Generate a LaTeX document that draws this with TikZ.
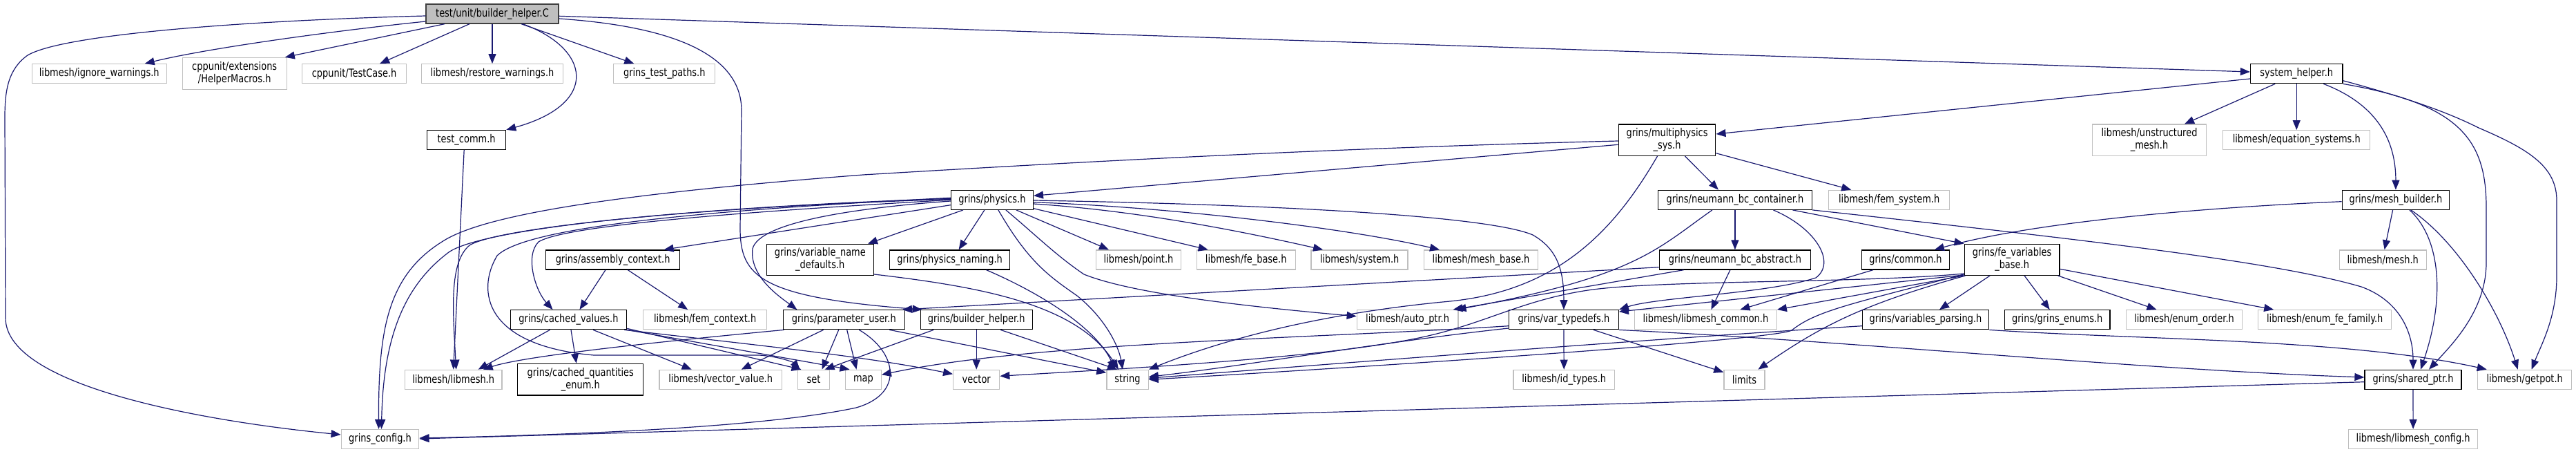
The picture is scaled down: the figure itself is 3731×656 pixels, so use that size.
\documentclass[tikz,border=0pt]{standalone}
\usepackage{fontspec}
\newfontfamily\gvfont{DejaVu Sans}[FakeStretch=0.81]
\usetikzlibrary{arrows.meta,calc}
\definecolor{edgec}{HTML}{191970}
\definecolor{grayb}{HTML}{BFBFBF}
\definecolor{rootb}{HTML}{404040}
\begin{document}
\begin{tikzpicture}[x=1pt,y=-1pt,
  every node/.style={font=\gvfont\fontsize{16}{18}\selectfont, inner sep=0pt, minimum height=28pt, align=center, line width=1.3pt},
  gn/.style={draw=grayb},
  bn/.style={draw=black},
  e/.style={draw=edgec, line width=1.2pt, -{Triangle[length=14pt,width=11pt]}}
]
\fill[white] (0,0) rectangle (3731,656);
\useasboundingbox (0,0) rectangle (3731,656);
% ---------- nodes ----------
\node[draw=rootb, fill=grayb, minimum width=192pt] (root) at (713,20) {test/unit/builder\_helper.C};
\node[gn, minimum width=195pt] (ignw) at (143.7,106.7) {libmesh/ignore\_warnings.h};
\node[gn, minimum width=151pt, minimum height=46pt] (helper) at (339.7,106.5) {cppunit/extensions\\/HelperMacros.h};
\node[gn, minimum width=151pt] (testcase) at (513.1,106.7) {cppunit/TestCase.h};
\node[gn, minimum width=205pt] (restw) at (713,106.7) {libmesh/restore\_warnings.h};
\node[gn, minimum width=147pt] (testpaths) at (962.3,106.7) {grins\_test\_paths.h};
\node[bn, minimum width=114pt] (testcomm) at (675.6,202.5) {test\_comm.h};
\node[bn, minimum width=133.4pt] (syshelp) at (3326.2,106.7) {system\_helper.h};
\node[bn, minimum width=140.6pt, minimum height=45.4pt] (multi) at (2414.5,202.7) {grins/multiphysics\\\_sys.h};
\node[gn, minimum width=165pt, minimum height=45.4pt] (unstr) at (3113,202.7) {libmesh/unstructured\\\_mesh.h};
\node[gn, minimum width=213pt] (eqsys) at (3326.2,202.7) {libmesh/equation\_systems.h};
\node[bn, minimum width=119pt] (physics) at (1436.9,289.3) {grins/physics.h};
\node[bn, minimum width=223.4pt] (container) at (2512.9,289.3) {grins/neumann\_bc\_container.h};
\node[gn, minimum width=175pt] (femsys) at (2736.2,289.3) {libmesh/fem\_system.h};
\node[bn, minimum width=155.5pt] (meshb) at (3469.9,289.3) {grins/mesh\_builder.h};
\node[bn, minimum width=194.4pt] (assembly) at (887.6,376) {grins/assembly\_context.h};
\node[bn, minimum width=155pt, minimum height=45pt] (varname) at (1187.8,375.8) {grins/variable\_name\\\_defaults.h};
\node[bn, minimum width=174pt] (physnaming) at (1375.6,376) {grins/physics\_naming.h};
\node[gn, minimum width=123pt] (point) at (1649,376) {libmesh/point.h};
\node[gn, minimum width=143pt] (febase) at (1804.7,376) {libmesh/fe\_base.h};
\node[gn, minimum width=140pt] (system) at (1969.1,376) {libmesh/system.h};
\node[gn, minimum width=165pt] (meshbase) at (2145,376) {libmesh/mesh\_base.h};
\node[bn, minimum width=219.4pt] (abstract) at (2512.9,376) {grins/neumann\_bc\_abstract.h};
\node[bn, minimum width=126.5pt] (common) at (2759.9,376) {grins/common.h};
\node[bn, minimum width=137.8pt, minimum height=45pt] (fevb) at (2914.1,375.8) {grins/fe\_variables\\\_base.h};
\node[gn, minimum width=126pt] (meshh) at (3451.2,376) {libmesh/mesh.h};
\node[bn, minimum width=168.2pt] (cached) at (823.5,462.7) {grins/cached\_values.h};
\node[gn, minimum width=179pt] (femctx) at (1021.2,462.7) {libmesh/fem\_context.h};
\node[bn, minimum width=176pt] (paramuser) at (1222.3,462.7) {grins/parameter\_user.h};
\node[bn, minimum width=162pt] (builderh) at (1414.2,462.7) {grins/builder\_helper.h};
\node[gn, minimum width=146.6pt] (autoptr) at (2038.6,462.7) {libmesh/auto\_ptr.h};
\node[bn, minimum width=158.7pt] (vartd) at (2264.9,462.7) {grins/var\_typedefs.h};
\node[gn, minimum width=205.7pt] (lmcommon) at (2470.4,462.7) {libmesh/libmesh\_common.h};
\node[bn, minimum width=183.2pt] (varparse) at (2789,462.7) {grins/variables\_parsing.h};
\node[bn, minimum width=152.3pt] (enums) at (2979.7,462.7) {grins/grins\_enums.h};
\node[gn, minimum width=168pt] (enumorder) at (3163.5,462.7) {libmesh/enum\_order.h};
\node[gn, minimum width=192.8pt] (enumfe) at (3367.2,462.7) {libmesh/enum\_fe\_family.h};
\node[gn, minimum width=140.3pt] (libmesh) at (656.7,549.3) {libmesh/libmesh.h};
\node[bn, minimum width=182pt, minimum height=45.7pt] (cqenum) at (840.8,549.2) {grins/cached\_quantities\\\_enum.h};
\node[gn, minimum width=177.2pt] (vecval) at (1043.7,549.3) {libmesh/vector\_value.h};
\node[gn, minimum width=45.8pt] (set) at (1178.5,549.3) {set};
\node[gn, minimum width=51.5pt] (map) at (1250.5,549.3) {map};
\node[gn, minimum width=67pt] (vector) at (1414.2,549.3) {vector};
\node[gn, minimum width=60.3pt] (string) at (1633,549.3) {string};
\node[gn, minimum width=146.6pt] (idtypes) at (2265.2,549.3) {libmesh/id\_types.h};
\node[gn, minimum width=59pt] (limits) at (2526.4,549.3) {limits};
\node[bn, minimum width=140pt] (sharedptr) at (3495,549.3) {grins/shared\_ptr.h};
\node[gn, minimum width=136.2pt] (getpot) at (3656.7,549.3) {libmesh/getpot.h};
\node[gn, minimum width=112.5pt] (config) at (550.5,635.5) {grins\_config.h};
\node[gn, minimum width=187pt] (lmconfig) at (3495.1,635.5) {libmesh/libmesh\_config.h};
% ---------- root ----------
\draw[e] ([yshift=-3pt]root.west) .. controls (350,30) and (90,50) .. (40,80) .. controls (12,100) and (7,130) .. (7,170) -- (8,460) .. controls (8,560) and (300,610) .. ([yshift=6.5pt]config.west);
\draw[e] ([yshift=-11pt]root.west) .. controls (480,45) and (300,70) .. ([xshift=66pt]ignw.north);
\draw[e] ([xshift=-69pt]root.south) -- ([xshift=-3pt]helper.north east);
\draw[e] ([xshift=-33pt]root.south) -- ([xshift=37pt]testcase.north);
\draw[e] (root.south) -- (restw.north);
\draw[e] ([xshift=44pt]root.south) .. controls (855,70) and (870,150) .. (testcomm.north east);
\draw[e] ([xshift=42pt]root.south) -- ([xshift=-44pt]testpaths.north);
\draw[e] ([yshift=-3.3pt]root.east) -- ([yshift=2.7pt]syshelp.west);
\draw[e] ([yshift=-7pt]root.east) .. controls (1000,40) and (1074,90) .. (1074,160) -- (1072,330) .. controls (1072,400) and (1100,430) .. ([xshift=3pt]builderh.north west);
\draw[e] ([xshift=-3.4pt]testcomm.south) -- (libmesh.north);
% ---------- system_helper ----------
\draw[e] ([yshift=-7.3pt]syshelp.west) -- ([yshift=8.7pt]multi.east);
\draw[e] ([xshift=-31pt]syshelp.south) -- ([xshift=51pt]unstr.north);
\draw[e] (syshelp.south) -- (eqsys.north);
\draw[e] ([xshift=39pt]syshelp.south) .. controls (3440,150) and (3470,200) .. (meshb.north);
\draw[e] (syshelp.south east) .. controls (3560,150) and (3601,200) .. (3601,300) -- (3601,380) .. controls (3601,450) and (3550,500) .. ([xshift=23pt]sharedptr.north);
\draw[e] ([yshift=-10pt]syshelp.east) .. controls (3480,140) and (3540,160) .. (3590,185) .. controls (3660,215) and (3703,240) .. (3703,290) -- (3703,400) .. controls (3703,460) and (3680,500) .. ([xshift=10pt]getpot.north);
% ---------- multiphysics ----------
\draw[e] ([yshift=-6.6pt]multi.west) -- ([yshift=6pt]physics.east);
\draw[e] ([yshift=-1.3pt]multi.west) .. controls (1900,215) and (1500,238) .. (1250,253) .. controls (900,280) and (700,310) .. (640,350) .. controls (560,400) and (548,480) .. ([xshift=-2pt]config.north);
\draw[e] ([xshift=26pt]multi.south) -- ([xshift=-24pt]container.north);
\draw[e] ([yshift=-19pt]multi.east) -- ([xshift=-55pt]femsys.north);
\draw[e] ([xshift=-14pt]multi.south) .. controls (2340,330) and (2260,420) .. (2100,436) .. controls (1950,450) and (1800,480) .. (string.north east);
% ---------- physics ----------
\draw[e] ([yshift=-0.7pt]physics.east) .. controls (1800,295) and (2150,310) .. (2220,340) .. controls (2255,360) and (2265,390) .. (vartd.north);
\draw[e] ([yshift=-3.4pt]physics.east) .. controls (1700,300) and (1950,330) .. ([xshift=-60pt]meshbase.north);
\draw[e] ([yshift=-5.7pt]physics.east) .. controls (1650,305) and (1800,335) .. ([xshift=-53pt]system.north);
\draw[e] ([yshift=-12.4pt]physics.east) -- ([xshift=-55pt]febase.north);
\draw[e] ([xshift=35pt]physics.south) -- ([xshift=-43pt]point.north);
\draw[e] ([xshift=20pt]physics.south) .. controls (1500,340) and (1530,370) .. (1570,397) .. controls (1640,425) and (1800,443) .. ([yshift=5pt]autoptr.west);
\draw[e] ([xshift=9pt]physics.south) .. controls (1490,380) and (1520,400) .. (1560,428) .. controls (1600,460) and (1620,500) .. ([xshift=-7pt]string.north);
\draw[e] ([xshift=-11pt]physics.south) -- ([xshift=13pt]physnaming.north);
\draw[e] ([xshift=-42pt]physics.south) -- ([xshift=-9pt]varname.north east);
\draw[e] ([yshift=-7.4pt]physics.west) -- ([xshift=74pt]assembly.north);
\draw[e] ([yshift=-1.7pt]physics.west) .. controls (1250,300) and (1100,320) .. (1090,360) .. controls (1085,400) and (1130,430) .. ([xshift=-68pt]paramuser.north);
\draw[e] (physics.west) .. controls (1100,305) and (820,325) .. (780,350) .. controls (760,370) and (775,420) .. ([xshift=-23pt]cached.north);
\draw[e] ([yshift=1pt]physics.west) .. controls (1000,300) and (720,330) .. (680,355) .. controls (650,380) and (656,450) .. ([xshift=4pt]libmesh.north);
\draw[e] ([yshift=2pt]physics.west) .. controls (1000,300) and (700,330) .. (650,365) .. controls (590,410) and (555,480) .. ([xshift=2pt]config.north);
\draw[e] ([yshift=3pt]physics.west) .. controls (1000,305) and (760,330) .. (720,370) .. controls (690,420) and (700,500) .. (860,514) -- (1100,514) .. controls (1130,516) and (1150,525) .. ([xshift=-20pt]set.north);
% ---------- cached_values ----------
\draw[e] ([xshift=-27pt]cached.south) -- ([xshift=36pt]libmesh.north);
\draw[e] ([xshift=3.5pt]cached.south) -- ([xshift=-6pt]cqenum.north);
\draw[e] ([xshift=35.5pt]cached.south) -- ([xshift=-42pt]vecval.north);
\draw[e] ([yshift=2pt]cached.south east) -- ([xshift=-18pt]set.north);
\draw[e] (cached.south east) -- ([xshift=-20pt]map.north);
\draw[e] ([xshift=-4pt]cached.south east) .. controls (1100,500) and (1250,515) .. ([yshift=8pt]vector.west);
% ---------- assembly_context ----------
\draw[e] ([xshift=-10.6pt]assembly.south) -- ([xshift=16pt]cached.north);
\draw[e] ([xshift=21.7pt]assembly.south) -- ([xshift=-25pt]femctx.north);
% ---------- parameter_user ----------
\draw[e] ([xshift=2pt]paramuser.south west) .. controls (950,495) and (760,515) .. ([xshift=43pt]libmesh.north);
\draw[e] ([xshift=-29.7pt]paramuser.south) -- ([xshift=30pt]vecval.north);
\draw[e] ([xshift=-7.6pt]paramuser.south) -- ([xshift=12pt]set.north);
\draw[e] ([xshift=4.4pt]paramuser.south) -- ([xshift=-10pt]map.north);
\draw[e] ([xshift=66pt]paramuser.south) -- ([yshift=10pt]string.west);
\draw[e] ([xshift=22pt]paramuser.south) .. controls (1300,510) and (1310,570) .. (1240,590) .. controls (1100,620) and (800,630) .. ([yshift=1.5pt]config.east);
% ---------- builder_helper ----------
\draw[e] (builderh.south) -- (vector.north);
\draw[e] ([xshift=35pt]builderh.south) -- ([xshift=-15pt]string.north);
\draw[e] ([xshift=-62pt]builderh.south) -- ([xshift=16pt]set.north);
% ---------- variable_name_defaults, physics_naming ----------
\draw[e] ([yshift=2pt]varname.south east) .. controls (1420,415) and (1560,440) .. ([xshift=-13pt]string.north);
\draw[e] ([xshift=53pt]physnaming.south) .. controls (1520,430) and (1590,480) .. ([xshift=-18pt]string.north);
% ---------- neumann_bc_container ----------
\draw[e] (container.south) -- (abstract.north);
\draw[e] ([xshift=55.5pt]container.south) .. controls (2630,330) and (2660,380) .. (2630,402) .. controls (2560,425) and (2400,430) .. (vartd.north east);
\draw[e] ([xshift=83.6pt]container.south) -- (fevb.north west);
\draw[e] (container.south east) .. controls (3050,350) and (3300,380) .. (3420,415) .. controls (3475,435) and (3495,480) .. (sharedptr.north);
\draw[e] ([xshift=-33pt]container.south) .. controls (2400,360) and (2370,400) .. ([xshift=-3pt]autoptr.north east);
% ---------- neumann_bc_abstract ----------
\draw[e] ([xshift=-74.3pt]abstract.south) -- ([xshift=-8pt]autoptr.north east);
\draw[e] ([xshift=-7pt]abstract.south) -- ([xshift=8pt]lmcommon.north);
\draw[e] ([yshift=-10.7pt]abstract.west) -- ([xshift=-4pt]paramuser.north east);
% ---------- common ----------
\draw[e] ([xshift=-47pt]common.south) -- ([xshift=50pt]lmcommon.north);
% ---------- fe_variables_base ----------
\draw[e] ([xshift=-32pt]fevb.south) -- ([xshift=20pt]varparse.north);
\draw[e] ([xshift=18pt]fevb.south) -- ([xshift=-11pt]enums.north);
\draw[e] ([xshift=-3pt]fevb.south east) -- ([xshift=-40pt]enumorder.north);
\draw[e] ([yshift=-13.5pt]fevb.east) -- ([xshift=-74pt]enumfe.north);
\draw[e] ([xshift=2pt]fevb.south west) .. controls (2700,440) and (2640,470) .. ([xshift=20pt]limits.north);
\draw[e] (fevb.south west) -- (lmcommon.north east);
\draw[e] ([yshift=1pt]fevb.south west) -- ([yshift=-3pt]vartd.north east);
\draw[e] ([yshift=2pt]fevb.south west) .. controls (2680,440) and (2630,450) .. (2595,478) .. controls (2570,492) and (2000,530) .. (string.east);
\draw[e] ([yshift=3pt]fevb.south west) .. controls (2700,410) and (2400,405) .. (2300,420) .. controls (2200,435) and (2150,470) .. (2050,490) .. controls (1900,520) and (1600,535) .. ([yshift=5pt]vector.east);
% ---------- var_typedefs ----------
\draw[e] (vartd.south) -- (idtypes.north);
\draw[e] ([xshift=43pt]vartd.south) -- ([yshift=10.6pt]limits.west);
\draw[e] (vartd.south east) .. controls (2700,495) and (3100,535) .. ([yshift=3.3pt]sharedptr.west);
\draw[e] ([yshift=-9pt]vartd.west) .. controls (1900,490) and (1500,495) .. ([yshift=7pt]map.east);
\draw[e] ([yshift=-12.3pt]vartd.west) .. controls (2000,495) and (1800,530) .. ([yshift=4pt]string.east);
% ---------- variables_parsing ----------
\draw[e] ([yshift=-9pt]varparse.west) .. controls (2400,490) and (1950,525) .. ([yshift=2pt]string.east);
\draw[e] (varparse.south east) .. controls (3100,492) and (3400,490) .. ([xshift=-55pt]getpot.north);
% ---------- mesh_builder ----------
\draw[e] ([xshift=-4.3pt]meshb.south) -- ([xshift=2.4pt]meshh.north);
\draw[e] ([xshift=20pt]meshb.south) .. controls (3530,340) and (3545,420) .. ([xshift=11pt]sharedptr.north);
\draw[e] ([xshift=22pt]meshb.south) .. controls (3560,350) and (3620,450) .. ([xshift=-10pt]getpot.north);
\draw[e] ([yshift=-2.4pt]meshb.west) .. controls (3200,300) and (2950,320) .. ([xshift=42pt]common.north);
% ---------- shared_ptr ----------
\draw[e] (sharedptr.south) -- (lmconfig.north);
\draw[e] ([yshift=-3.4pt]sharedptr.west) -- ([yshift=0.5pt]config.east);
\end{tikzpicture}
\end{document}
